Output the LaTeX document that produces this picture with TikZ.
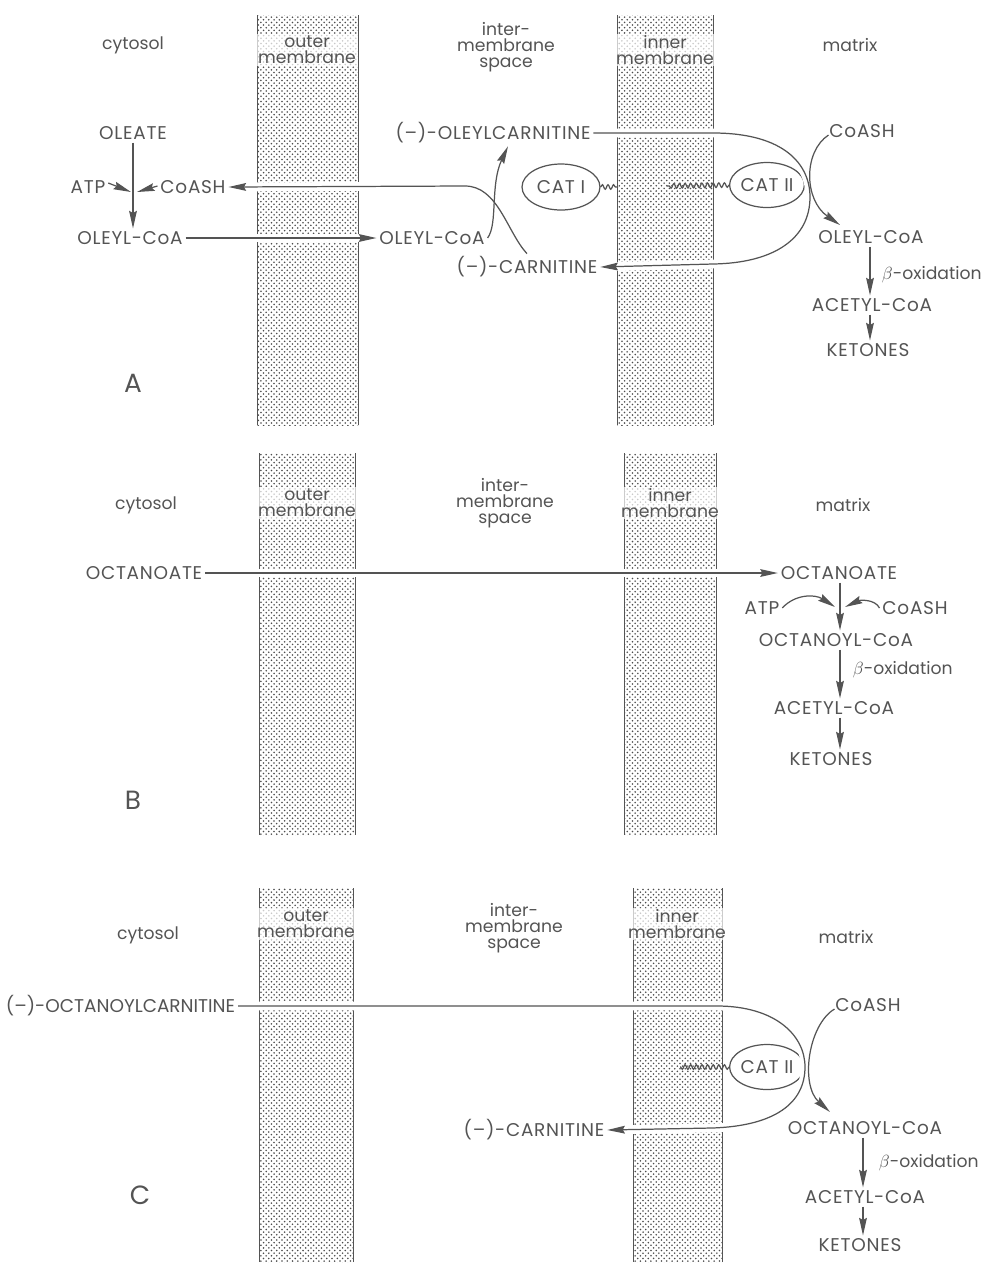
\documentclass[tikz,border=0pt]{standalone}
\usepackage{fontspec}
\setmainfont{Poppins}
\newfontfamily\capsfont{Poppins}[LetterSpace=4]
\usetikzlibrary{arrows.meta, calc, patterns, shapes.geometric, decorations.pathmorphing}

\begin{document}
\begin{tikzpicture}[x=0.02cm, y=-0.02cm]

%my colors
\definecolor{inkgray}{rgb}{0.33, 0.33, 0.33}
\definecolor{dotgray}{rgb}{0.30, 0.30, 0.30}

\tikzset{
    lbl/.style={font=\capsfont\fontsize{10.5}{9}\selectfont, text=inkgray, inner sep=1.5pt},
    small/.style={lbl, font=\fontsize{9.8}{9}\selectfont},
    memlbl/.style={small, align=center, fill=white, fill opacity=0.7, text opacity=1, inner sep=1pt},
    panel/.style={font=\fontsize{15}{17}\selectfont, text=inkgray},
    ln/.style={inkgray, line width=0.7pt},
    arr/.style={ln, -{Stealth[length=10pt, width=4.4pt, inset=1.2pt]}},
    halo/.style={preaction={draw=white, line width=5pt, -}},
    enzyme/.style={lbl, ellipse, draw=inkgray, line width=0.7pt, inner sep=0pt},
    squiggle/.style={ln, decorate, decoration={snake, amplitude=1.3pt, segment length=3.2pt}},
    membrane/.style={pattern=crosshatch dots, pattern color=dotgray}
}

\useasboundingbox (0,0) rectangle (983,1269);

    % Membranes, panel A
    \path[membrane] (257,15) rectangle (358,425);
    \draw[ln, line width=0.5pt] (257,15) -- (257,425) (358,15) -- (358,425);
    \path[membrane] (617,15) rectangle (713,425);
    \draw[ln, line width=0.5pt] (617,15) -- (617,425) (713,15) -- (713,425);
    % Membranes, panel B
    \path[membrane] (259,453) rectangle (355,835);
    \draw[ln, line width=0.5pt] (259,453) -- (259,835) (355,453) -- (355,835);
    \path[membrane] (624,453) rectangle (716,835);
    \draw[ln, line width=0.5pt] (624,453) -- (624,835) (716,453) -- (716,835);
    % Membranes, panel C
    \path[membrane] (259,888) rectangle (353,1262);
    \draw[ln, line width=0.5pt] (259,888) -- (259,1262) (353,888) -- (353,1262);
    \path[membrane] (633,888) rectangle (722,1262);
    \draw[ln, line width=0.5pt] (633,888) -- (633,1262) (722,888) -- (722,1262);

    %%%%%%%%%% Panel A: oleate %%%%%%%%%%
    % Compartment labels
    \node[small] (cytA) at (133,45) {cytosol};
    \node[memlbl] (outA) at (307,50) {outer\\membrane};
    \node[small, align=center] (imsA) at (506,47) {inter-\\membrane\\space};
    \node[memlbl] (innA) at (665,50) {inner\\membrane};
    \node[small] (matA) at (850,45) {matrix};

    % Metabolites
    \node[lbl] (oleate) at (133,133) {OLEATE};
    \node[lbl] (atpA) at (88,187) {ATP};
    \node[lbl] (coashA) at (193,187) {CoASH};
    \node[lbl] (olcoaC) at (130,238) {OLEYL-CoA};
    \node[lbl] (olcoaI) at (432,238) {OLEYL-CoA};
    \node[lbl] (olcarn) at (493,133) {(–)-OLEYLCARNITINE};
    \node[lbl] (carnA) at (527,267) {(–)-CARNITINE};
    \node[lbl] (coashM) at (862,131) {CoASH};
    \node[lbl] (olcoaM) at (871,237) {OLEYL-CoA};
    \node[small, anchor=west] (betaA) at (879,275) {$\beta$-oxidation};
    \node[lbl] (acetA) at (872,305) {ACETYL-CoA};
    \node[lbl] (ketA) at (868,350) {KETONES};
    \node[panel] (labA) at (133,383) {A};

    % Enzymes
    \node[enzyme, minimum width=1.56cm, minimum height=0.92cm] (cat1) at (561,187) {CAT $\mathrm{I}$};
    \node[enzyme, minimum width=1.46cm, minimum height=0.9cm] (cat2A) at (767,185) {CAT $\mathrm{II}$};
    \coordinate (anchor1) at (618,187);
    \coordinate (anchor2A) at (667,186);
    \draw[squiggle] (cat1.east) -- (anchor1);
    \draw[squiggle] (cat2A.west) -- (anchor2A);

    % Activation in the cytosol
    \coordinate (stemA) at (134,192);
    \coordinate (colA) at (870,0);
    \draw[arr] (oleate.south) -- (oleate.south |- olcoaC.north);
    \draw[arr] ($(atpA.east)+(0,-4)$) -- ($(stemA)+(-3,0)$);
    \draw[arr] ($(coashA.west)+(0,-1)$) -- ($(stemA)+(3,0)$);

    % Transport across the outer membrane
    \draw[arr, halo] (olcoaC.east) -- (olcoaI.west);
    \draw[arr, halo] (carnA.north) .. controls (507,232) and (498,186) .. (465,186) -- (coashA.east);
    \draw[arr] (olcoaI.east) .. controls (498,224) and (490,185) .. ($(olcarn.south)+(15,0)$);

    % Carnitine shuttle across the inner membrane
    \draw[arr, halo] (olcarn.east) -- (713,133) .. controls (785,133) and (810,165) .. (810,197)
        .. controls (810,238) and (775,263) .. (713,264) -- (carnA.east);
    \coordinate (tipA) at (840,225);
    \draw[arr] ($(coashM.west)+(2,4)$) .. controls (803,152) and (804,200) .. (tipA);

    % Matrix
    \draw[arr] (olcoaM.south -| colA) -- (acetA.north -| colA);
    \draw[arr] (acetA.south -| colA) -- (ketA.north -| colA);

    %%%%%%%%%% Panel B: octanoate %%%%%%%%%%
    \node[small] (cytB) at (146,505) {cytosol};
    \node[memlbl] (outB) at (307,503) {outer\\membrane};
    \node[small, align=center] (imsB) at (505,503) {inter-\\membrane\\space};
    \node[memlbl] (innB) at (670,503) {inner\\membrane};
    \node[small] (matB) at (843,505) {matrix};

    \node[lbl] (octC) at (144,573) {OCTANOATE};
    \node[lbl] (octM) at (839,573) {OCTANOATE};
    \node[lbl] (atpB) at (762,608) {ATP};
    \node[lbl] (coashB) at (915,608) {CoASH};
    \node[lbl] (occoaB) at (836,640) {OCTANOYL-CoA};
    \node[small, anchor=west] (betaB) at (850,670) {$\beta$-oxidation};
    \node[lbl] (acetB) at (834,708) {ACETYL-CoA};
    \node[lbl] (ketB) at (831,759) {KETONES};
    \node[panel] (labB) at (133,800) {B};

    \coordinate (stemB) at (840,607);
    \draw[arr, halo] (octC.east) -- (octM.west);
    \draw[arr] (octM.south -| stemB) -- (occoaB.north -| stemB);
    \draw[arr] (atpB.east) .. controls (795,594) and (815,594) .. ($(stemB)+(-5,0)$);
    \draw[arr] (coashB.west) .. controls (875,599) and (860,600) .. ($(stemB)+(5,0)$);
    \draw[arr] (occoaB.south -| stemB) -- (acetB.north -| stemB);
    \draw[arr] (acetB.south -| stemB) -- (ketB.north -| stemB);

    %%%%%%%%%% Panel C: octanoylcarnitine %%%%%%%%%%
    \node[small] (cytC) at (148,935) {cytosol};
    \node[memlbl] (outC) at (306,924) {outer\\membrane};
    \node[small, align=center] (imsC) at (514,928) {inter-\\membrane\\space};
    \node[memlbl] (innC) at (677,924) {inner\\membrane};
    \node[small] (matC) at (846,937) {matrix};

    \node[lbl, font=\fontsize{10.5}{9}\selectfont, anchor=west] (occarn) at (3,1006) {(–)-OCTANOYLCARNITINE};
    \node[lbl] (coashC) at (868,1005) {CoASH};
    \node[lbl] (carnC) at (534,1130) {(–)-CARNITINE};
    \node[lbl] (occoaC) at (865,1128) {OCTANOYL-CoA};
    \node[small, anchor=west] (betaC) at (876,1163) {$\beta$-oxidation};
    \node[lbl] (acetC) at (865,1197) {ACETYL-CoA};
    \node[lbl] (ketC) at (860,1245) {KETONES};
    \node[panel] (labC) at (140,1195) {C};

    \node[enzyme, minimum width=1.26cm, minimum height=0.9cm] (cat2C) at (767,1067) {CAT $\mathrm{II}$};
    \coordinate (anchor2C) at (680,1067);
    \draw[squiggle] (cat2C.west) -- (anchor2C);

    \coordinate (colC) at (863,0);
    \draw[arr, halo] (occarn.east) -- (717,1006) .. controls (775,1006) and (805,1035) .. (805,1067)
        .. controls (805,1103) and (775,1126) .. (712,1128) -- (carnC.east);
    \coordinate (tipC) at (830,1112);
    \draw[arr] ($(coashC.west)+(2,4)$) .. controls (808,1025) and (800,1085) .. (tipC);
    \draw[arr] (occoaC.south -| colC) -- (acetC.north -| colC);
    \draw[arr] (acetC.south -| colC) -- (ketC.north -| colC);

\end{tikzpicture}
\end{document}
